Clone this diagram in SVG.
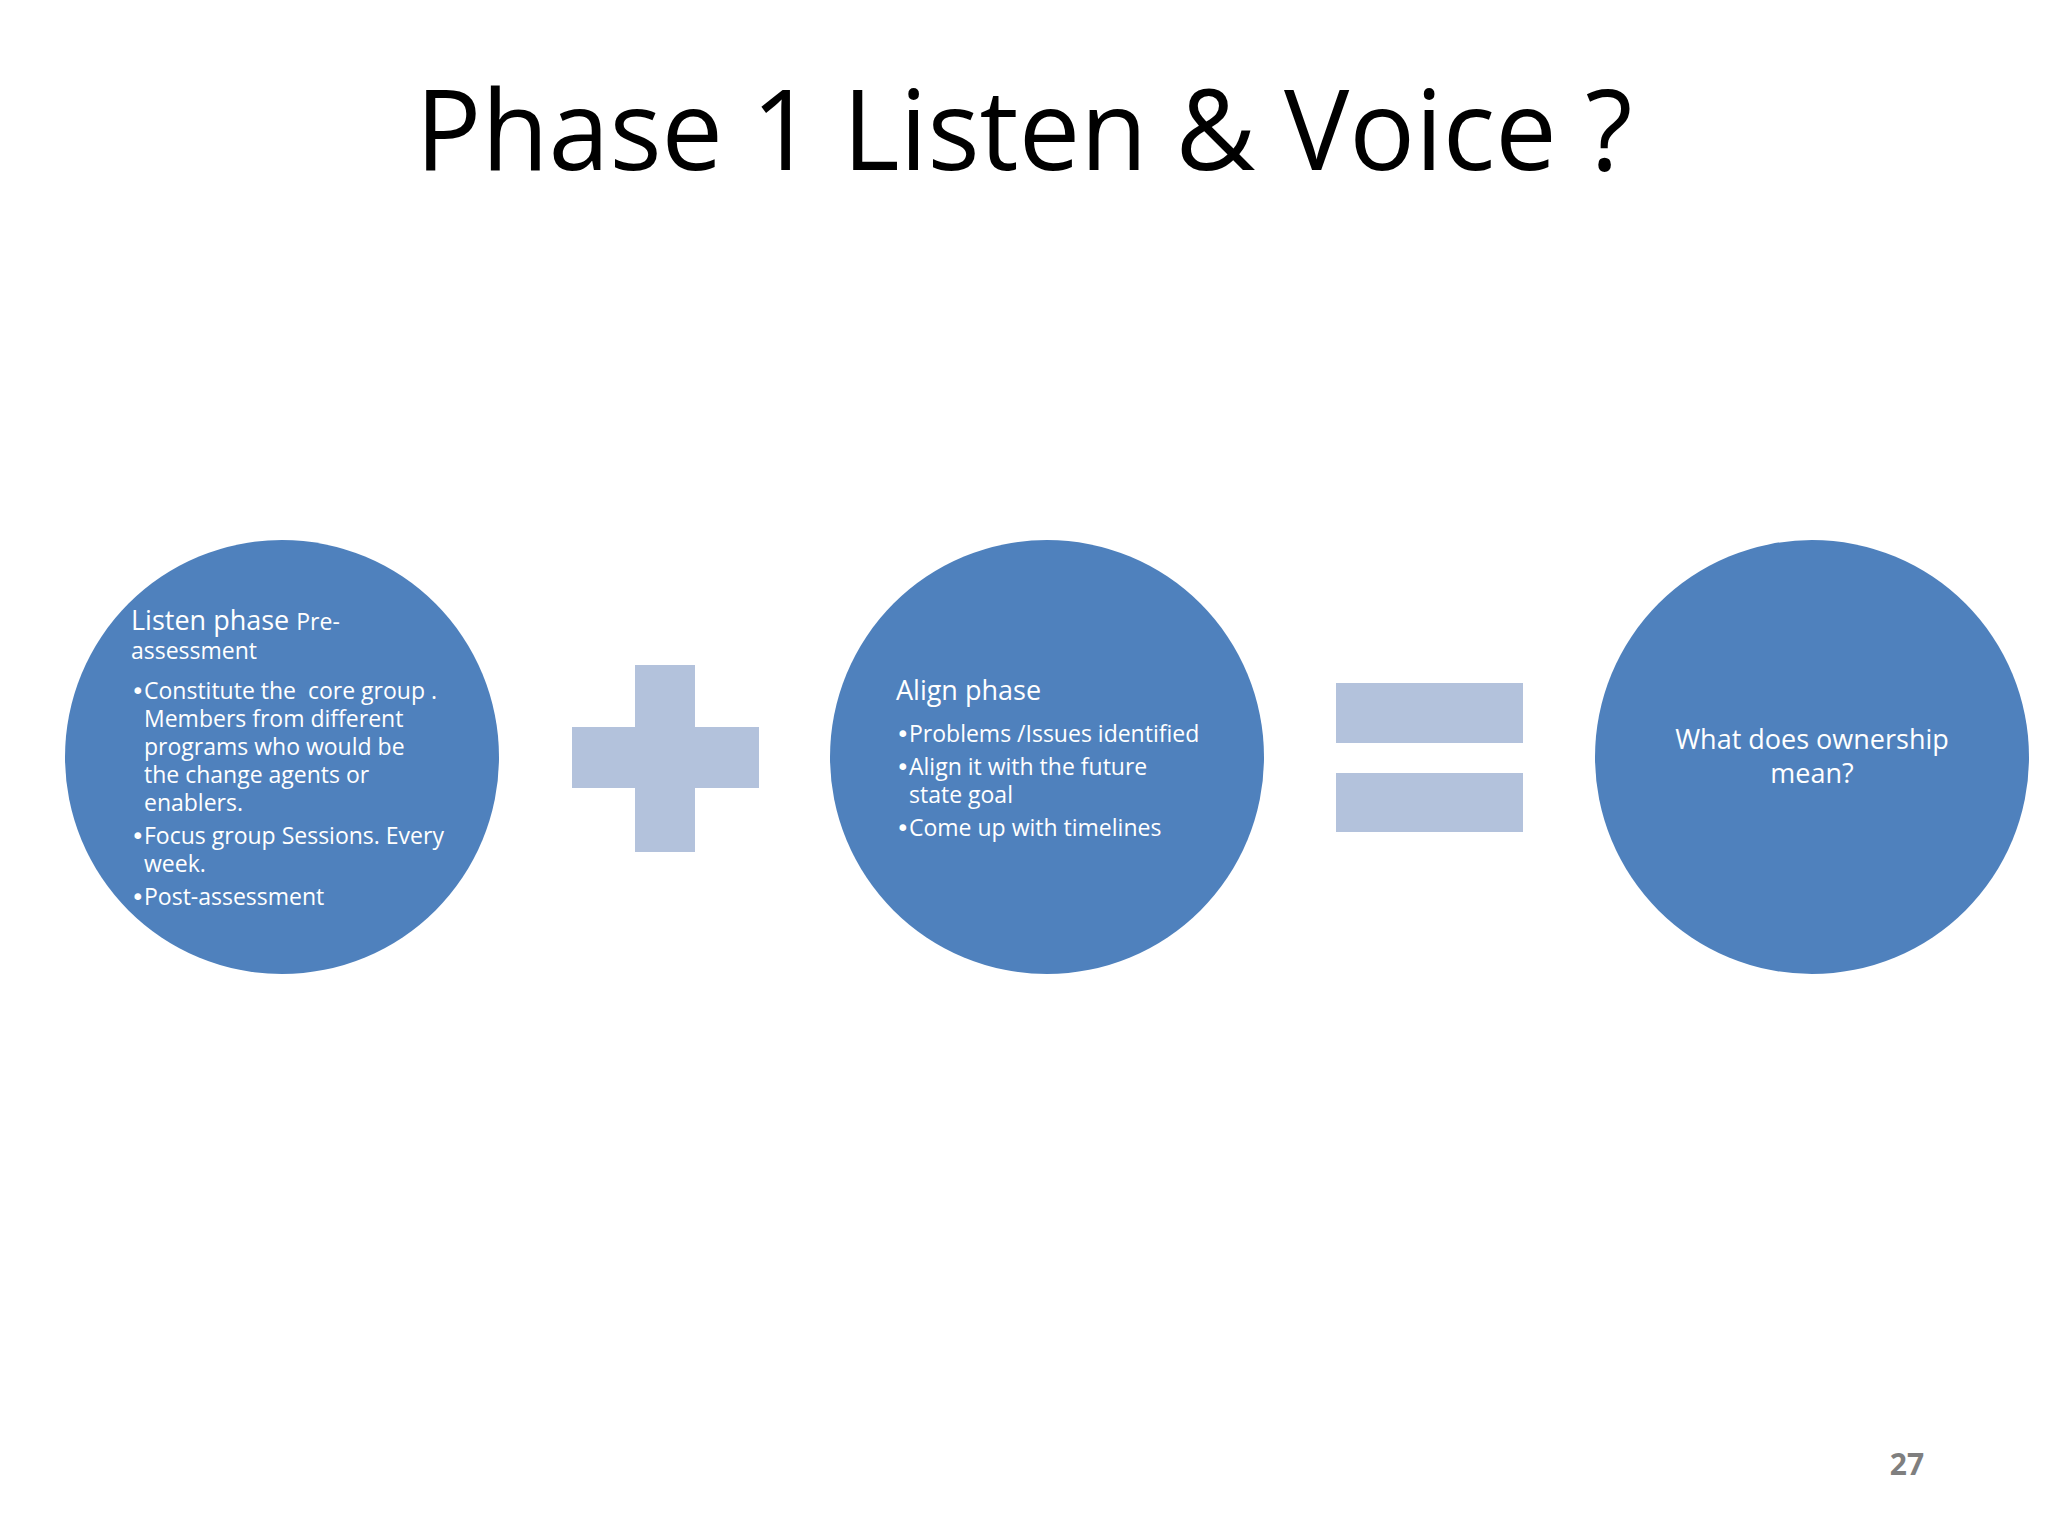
<svg xmlns="http://www.w3.org/2000/svg" width="2048" height="1536" viewBox="0 0 2048 1536">
<style>
.c{fill:#4f81bd}
.op{fill:#b3c2dc}
.t{font-family:"Open Sans","DejaVu Sans",sans-serif;fill:#fff;font-size:23px}
.h{font-size:27px}
.b{font-family:"DejaVu Sans",sans-serif;font-size:23px}
</style>
<rect width="2048" height="1536" fill="#fff"/>
<text x="1024" y="170" text-anchor="middle" font-family="Open Sans, sans-serif" font-size="112" fill="#000" textLength="1217" lengthAdjust="spacingAndGlyphs">Phase 1 Listen &amp; Voice ?</text>
<g id="listen">
<circle class="c" cx="282" cy="757" r="217"/>
<text class="t" xml:space="preserve"><tspan class="h" x="131" y="630">Listen phase </tspan><tspan>Pre-</tspan><tspan x="131" y="659">assessment</tspan><tspan x="131" y="699" class="b">•</tspan><tspan x="144" y="699">Constitute the  core group .</tspan><tspan x="144" y="727">Members from different</tspan><tspan x="144" y="755">programs who would be</tspan><tspan x="144" y="783">the change agents or</tspan><tspan x="144" y="811">enablers.</tspan><tspan x="131" y="844" class="b">•</tspan><tspan x="144" y="844">Focus group Sessions. Every</tspan><tspan x="144" y="872">week.</tspan><tspan x="131" y="905" class="b">•</tspan><tspan x="144" y="905">Post-assessment</tspan></text>
</g>
<g id="plus">
<rect class="op" x="635" y="665" width="60" height="187"/>
<rect class="op" x="572" y="727" width="187" height="61"/>
</g>
<g id="align">
<circle class="c" cx="1047" cy="757" r="217"/>
<text class="t"><tspan class="h" x="896" y="700">Align phase</tspan><tspan x="896" y="742" class="b">•</tspan><tspan x="909" y="742">Problems /Issues identified</tspan><tspan x="896" y="775" class="b">•</tspan><tspan x="909" y="775">Align it with the future</tspan><tspan x="909" y="803">state goal</tspan><tspan x="896" y="836" class="b">•</tspan><tspan x="909" y="836">Come up with timelines</tspan></text>
</g>
<g id="equals">
<rect class="op" x="1336" y="683" width="187" height="60"/>
<rect class="op" x="1336" y="773" width="187" height="59"/>
</g>
<g id="ownership">
<circle class="c" cx="1812" cy="757" r="217"/>
<text class="t h" text-anchor="middle"><tspan x="1812" y="749">What does ownership</tspan><tspan x="1812" y="783">mean?</tspan></text>
</g>
<g id="connectors"/>
<text x="1907" y="1475" text-anchor="middle" font-family="Open Sans, sans-serif" font-weight="bold" font-size="30" fill="#7f7f7f">27</text>
</svg>
